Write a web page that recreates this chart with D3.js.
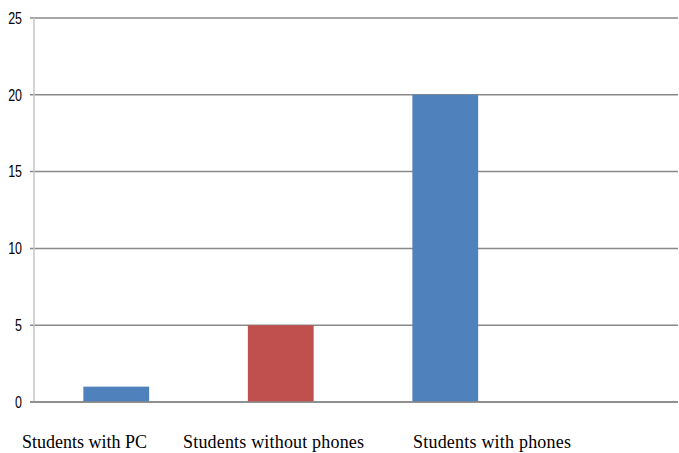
<!DOCTYPE html>
<html>
<head>
<meta charset="utf-8">
<script src="https://cdn.jsdelivr.net/npm/d3@7"></script>
<style>
  body { margin: 0; background: #fff; }
  svg { display: block; }
</style>
</head>
<body>
<div id="chart-area"></div>
<script>
const categories = ["Students with PC", "Students without phones", "Students with phones"];
const values = [1, 5, 20];
const barColors = ["#4F81BD", "#C0504D", "#4F81BD"];
const yTicks = [0, 5, 10, 15, 20, 25];
// the labels under the chart were typed as a separate line of text
const labelStarts = [22, 183, 413];
const labelWidths = [125, 181, 158];

const width = 679, height = 453;
const margin = {top: 18, right: 1, bottom: 51, left: 34};

var svg = d3.select("#chart-area").append("svg")
    .attr("width", width)
    .attr("height", height);

var yScale = d3.scaleLinear()
    .domain([0, 25])
    .range([height - margin.bottom, margin.top]);

var xScale = d3.scaleBand()
    .domain(categories)
    .range([margin.left, margin.left + 3 * 164.5])
    .paddingInner(0.6)
    .paddingOuter(0.3);

// gridlines
svg.append("g")
   .selectAll("line")
   .data(yTicks)
   .enter()
   .append("line")
   .attr("x1", margin.left - 4)
   .attr("x2", width - margin.right)
   .attr("y1", d => yScale(d))
   .attr("y2", d => yScale(d))
   .attr("stroke", "#898989")
   .attr("stroke-width", 1.5);

// vertical axis line
svg.append("line")
   .attr("x1", margin.left)
   .attr("x2", margin.left)
   .attr("y1", yScale(25))
   .attr("y2", yScale(0))
   .attr("stroke", "#c4c4c4")
   .attr("stroke-width", 1.5);

// tick labels (condensed look)
svg.append("g")
   .selectAll("text")
   .data(yTicks)
   .enter()
   .append("text")
   .attr("transform", d => `translate(22,${yScale(d)}) scale(0.78,1)`)
   .attr("dy", "0.36em")
   .attr("text-anchor", "end")
   .attr("font-family", "'Liberation Sans', Arial, sans-serif")
   .attr("font-size", 16)
   .attr("fill", "#000")
   .text(d => d);

// bars
svg.append("g")
   .selectAll("rect")
   .data(values)
   .enter()
   .append("rect")
   .attr("x", (d, i) => xScale(categories[i]))
   .attr("width", xScale.bandwidth())
   .attr("y", d => yScale(d))
   .attr("height", d => yScale(0) - yScale(d))
   .attr("fill", (d, i) => barColors[i]);

// redraw baseline over bars
svg.append("line")
   .attr("x1", margin.left - 4)
   .attr("x2", width - margin.right)
   .attr("y1", yScale(0))
   .attr("y2", yScale(0))
   .attr("stroke", "#898989")
   .attr("stroke-width", 1.5);

// category labels
svg.append("g")
   .selectAll("text")
   .data(categories)
   .enter()
   .append("text")
   .attr("x", (d, i) => labelStarts[i])
   .attr("y", 448)
   .attr("textLength", (d, i) => labelWidths[i])
   .attr("lengthAdjust", "spacing")
   .attr("font-family", "'Liberation Serif', 'Times New Roman', serif")
   .attr("font-size", 18)
   .attr("fill", "#000")
   .text(d => d);
</script>
</body>
</html>
